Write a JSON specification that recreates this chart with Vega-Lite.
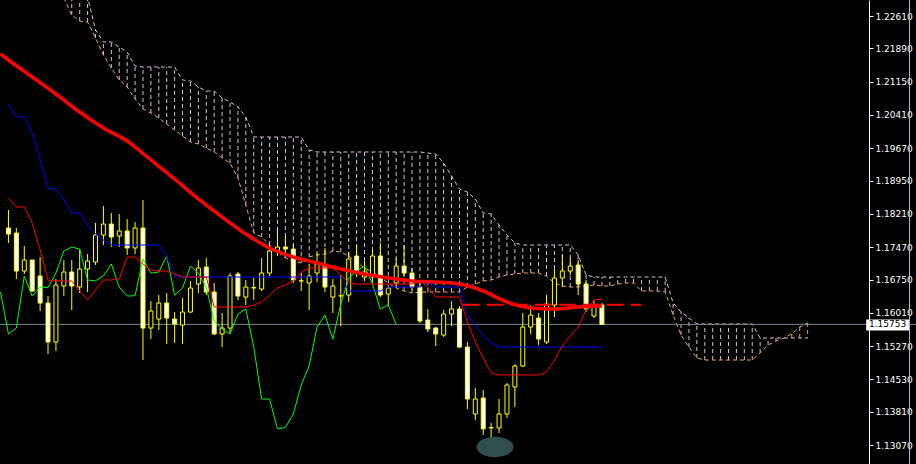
{
  "$schema": "https://vega.github.io/schema/vega-lite/v6.json",
  "width": 916,
  "height": 464,
  "autosize": {"type": "none"},
  "padding": 0,
  "background": "#000000",
  "config": {
    "view": {"stroke": null},
    "axis": {"grid": false, "domainColor": "#ffffff", "tickColor": "#ffffff", "tickSize": 4, "labelColor": "#ffffff",
      "labelFont": "DejaVu Sans", "labelFontSize": 9, "labelPadding": 2, "labelOverlap": false, "labelBound": false, "labelFlush": false}
  },
  "datasets": {
    "candles": [
      {"k":0,"o":1.17895,"h":1.18296,"l":1.17562,"c":1.17762},
      {"k":1,"o":1.17784,"h":1.17895,"l":1.16761,"c":1.16939},
      {"k":2,"o":1.16939,"h":1.17495,"l":1.16872,"c":1.17184},
      {"k":3,"o":1.17184,"h":1.17184,"l":1.16472,"c":1.16494},
      {"k":4,"o":1.16828,"h":1.17250,"l":1.16049,"c":1.16227},
      {"k":5,"o":1.16227,"h":1.16383,"l":1.15093,"c":1.15360},
      {"k":6,"o":1.15360,"h":1.16761,"l":1.15160,"c":1.16627},
      {"k":7,"o":1.16605,"h":1.17184,"l":1.16383,"c":1.16917},
      {"k":8,"o":1.16917,"h":1.17184,"l":1.16071,"c":1.16605},
      {"k":9,"o":1.16583,"h":1.17428,"l":1.16449,"c":1.16983},
      {"k":10,"o":1.16983,"h":1.17317,"l":1.16472,"c":1.17161},
      {"k":11,"o":1.17139,"h":1.18007,"l":1.17072,"c":1.17740},
      {"k":12,"o":1.17740,"h":1.18385,"l":1.17517,"c":1.17984},
      {"k":13,"o":1.17984,"h":1.18229,"l":1.17473,"c":1.17696},
      {"k":14,"o":1.17718,"h":1.18207,"l":1.17473,"c":1.17829},
      {"k":15,"o":1.17829,"h":1.18095,"l":1.17295,"c":1.17451},
      {"k":16,"o":1.17451,"h":1.18029,"l":1.17317,"c":1.17895},
      {"k":17,"o":1.17895,"h":1.18518,"l":1.14960,"c":1.15671},
      {"k":18,"o":1.15671,"h":1.16271,"l":1.15426,"c":1.16049},
      {"k":19,"o":1.15871,"h":1.16405,"l":1.15627,"c":1.16227},
      {"k":20,"o":1.16227,"h":1.16449,"l":1.15315,"c":1.15893},
      {"k":21,"o":1.15871,"h":1.16027,"l":1.15337,"c":1.15760},
      {"k":22,"o":1.15738,"h":1.16338,"l":1.15315,"c":1.16027},
      {"k":23,"o":1.16027,"h":1.16716,"l":1.16005,"c":1.16561},
      {"k":24,"o":1.16650,"h":1.17184,"l":1.16449,"c":1.17006},
      {"k":25,"o":1.17028,"h":1.17228,"l":1.16405,"c":1.16472},
      {"k":26,"o":1.16472,"h":1.16672,"l":1.15515,"c":1.15538},
      {"k":27,"o":1.15538,"h":1.16005,"l":1.15248,"c":1.15671},
      {"k":28,"o":1.15671,"h":1.16894,"l":1.15560,"c":1.16828},
      {"k":29,"o":1.16872,"h":1.16917,"l":1.16294,"c":1.16383},
      {"k":30,"o":1.16360,"h":1.16739,"l":1.16182,"c":1.16583},
      {"k":31,"o":1.16561,"h":1.16783,"l":1.16294,"c":1.16572},
      {"k":32,"o":1.16538,"h":1.17228,"l":1.16494,"c":1.16894},
      {"k":33,"o":1.16894,"h":1.17517,"l":1.16828,"c":1.17384},
      {"k":34,"o":1.17384,"h":1.17895,"l":1.17273,"c":1.17473},
      {"k":35,"o":1.17473,"h":1.17718,"l":1.17317,"c":1.17428},
      {"k":36,"o":1.17428,"h":1.17540,"l":1.16672,"c":1.16739},
      {"k":37,"o":1.16716,"h":1.16894,"l":1.16494,"c":1.16722},
      {"k":38,"o":1.16672,"h":1.17095,"l":1.16071,"c":1.16828},
      {"k":39,"o":1.16894,"h":1.17339,"l":1.16694,"c":1.17095},
      {"k":40,"o":1.17072,"h":1.17451,"l":1.16472,"c":1.16583},
      {"k":41,"o":1.16360,"h":1.16761,"l":1.16005,"c":1.16605},
      {"k":42,"o":1.16383,"h":1.16850,"l":1.15716,"c":1.16390},
      {"k":43,"o":1.16405,"h":1.17362,"l":1.16249,"c":1.17206},
      {"k":44,"o":1.17273,"h":1.17517,"l":1.16805,"c":1.16894},
      {"k":45,"o":1.16805,"h":1.17161,"l":1.16716,"c":1.16917},
      {"k":46,"o":1.16805,"h":1.17406,"l":1.16672,"c":1.17273},
      {"k":47,"o":1.17273,"h":1.17562,"l":1.16360,"c":1.16405},
      {"k":48,"o":1.16427,"h":1.16627,"l":1.16182,"c":1.16561},
      {"k":49,"o":1.16672,"h":1.17228,"l":1.16561,"c":1.17050},
      {"k":50,"o":1.17050,"h":1.17517,"l":1.16828,"c":1.16894},
      {"k":51,"o":1.16894,"h":1.17006,"l":1.16516,"c":1.16583},
      {"k":52,"o":1.16583,"h":1.16716,"l":1.15782,"c":1.15827},
      {"k":53,"o":1.15849,"h":1.16094,"l":1.15582,"c":1.15649},
      {"k":54,"o":1.15671,"h":1.15693,"l":1.15271,"c":1.15538},
      {"k":55,"o":1.15515,"h":1.16071,"l":1.15471,"c":1.15982},
      {"k":56,"o":1.15982,"h":1.16271,"l":1.15716,"c":1.16094},
      {"k":57,"o":1.16094,"h":1.16160,"l":1.15226,"c":1.15248},
      {"k":58,"o":1.15248,"h":1.15360,"l":1.13871,"c":1.14093},
      {"k":59,"o":1.13760,"h":1.14338,"l":1.13627,"c":1.14093},
      {"k":60,"o":1.14115,"h":1.14293,"l":1.13293,"c":1.13427},
      {"k":61,"o":1.13449,"h":1.13560,"l":1.13004,"c":1.13460},
      {"k":62,"o":1.13449,"h":1.14093,"l":1.13338,"c":1.13760},
      {"k":63,"o":1.13760,"h":1.14449,"l":1.13671,"c":1.14404},
      {"k":64,"o":1.14360,"h":1.14871,"l":1.13915,"c":1.14827},
      {"k":65,"o":1.14827,"h":1.16005,"l":1.14804,"c":1.15693},
      {"k":66,"o":1.15693,"h":1.16182,"l":1.15538,"c":1.15960},
      {"k":67,"o":1.15893,"h":1.16005,"l":1.15293,"c":1.15426},
      {"k":68,"o":1.15360,"h":1.16405,"l":1.15315,"c":1.16205},
      {"k":69,"o":1.16182,"h":1.16983,"l":1.15916,"c":1.16783},
      {"k":70,"o":1.16783,"h":1.17295,"l":1.16583,"c":1.16939},
      {"k":71,"o":1.16939,"h":1.17228,"l":1.16850,"c":1.17050},
      {"k":72,"o":1.17072,"h":1.17184,"l":1.16405,"c":1.16650},
      {"k":73,"o":1.16650,"h":1.16739,"l":1.16027,"c":1.16094},
      {"k":74,"o":1.15938,"h":1.16294,"l":1.15893,"c":1.16182},
      {"k":75,"o":1.16182,"h":1.16227,"l":1.15753,"c":1.15753}
    ],
    "ma": [
      {"k":-1,"v":1.21765},
      {"k":0,"v":1.21632},{"k":3,"v":1.21254},{"k":6,"v":1.20876},{"k":9,"v":1.20475},
      {"k":12,"v":1.20120},{"k":15,"v":1.19830},{"k":18,"v":1.19408},{"k":21,"v":1.18985},
      {"k":24,"v":1.18541},{"k":27,"v":1.18140},{"k":30,"v":1.17762},{"k":33,"v":1.17451},
      {"k":36,"v":1.17251},{"k":39,"v":1.17117},{"k":42,"v":1.16984},{"k":45,"v":1.16873},
      {"k":48,"v":1.16784},{"k":51,"v":1.16717},{"k":54,"v":1.16695},{"k":57,"v":1.16650},
      {"k":60,"v":1.16495},{"k":63,"v":1.16250},{"k":66,"v":1.16117},{"k":69,"v":1.16094},
      {"k":72,"v":1.16139},{"k":75,"v":1.16161}
    ],
    "kijun": [
      {"k":0,"v":1.20653},{"k":1,"v":1.20364},{"k":2,"v":1.20364},{"k":3,"v":1.20008},
      {"k":4,"v":1.19408},{"k":5,"v":1.18785},{"k":6,"v":1.18763},{"k":7,"v":1.18518},
      {"k":8,"v":1.18229},{"k":9,"v":1.18229},{"k":10,"v":1.17962},{"k":11,"v":1.17762},
      {"k":12,"v":1.17629},{"k":13,"v":1.17518},{"k":19,"v":1.17518},{"k":20,"v":1.17251},
      {"k":21,"v":1.16828},{"k":22,"v":1.16806},{"k":42,"v":1.16806},{"k":43,"v":1.16495},
      {"k":47,"v":1.16495},{"k":48,"v":1.16584},{"k":52,"v":1.16584},{"k":53,"v":1.16695},
      {"k":54,"v":1.16584},{"k":57,"v":1.16584},{"k":58,"v":1.15961},{"k":59,"v":1.15739},
      {"k":60,"v":1.15516},{"k":61,"v":1.15338},{"k":62,"v":1.15249},{"k":75,"v":1.15249}
    ],
    "tenkan": [
      {"k":0,"v":1.18563},{"k":1,"v":1.18363},{"k":2,"v":1.18363},{"k":3,"v":1.18007},
      {"k":4,"v":1.17406},{"k":5,"v":1.16739},{"k":6,"v":1.16717},{"k":8,"v":1.16717},
      {"k":9,"v":1.16495},{"k":10,"v":1.16295},{"k":11,"v":1.16517},{"k":12,"v":1.16739},
      {"k":13,"v":1.16739},{"k":14,"v":1.16762},{"k":15,"v":1.17251},{"k":16,"v":1.17251},
      {"k":17,"v":1.17095},{"k":18,"v":1.16962},{"k":19,"v":1.16940},{"k":20,"v":1.16940},
      {"k":21,"v":1.16873},{"k":22,"v":1.16806},{"k":25,"v":1.16806},{"k":26,"v":1.16139},
      {"k":30,"v":1.16139},{"k":31,"v":1.16183},{"k":32,"v":1.16250},{"k":33,"v":1.16406},
      {"k":34,"v":1.16562},{"k":35,"v":1.16628},{"k":36,"v":1.16717},{"k":37,"v":1.16917},
      {"k":38,"v":1.17006},{"k":41,"v":1.17006},{"k":42,"v":1.16851},{"k":43,"v":1.16673},
      {"k":44,"v":1.16650},{"k":51,"v":1.16650},{"k":52,"v":1.16717},{"k":53,"v":1.16584},
      {"k":54,"v":1.16361},{"k":57,"v":1.16361},{"k":58,"v":1.15805},{"k":59,"v":1.15361},
      {"k":60,"v":1.15005},{"k":61,"v":1.14671},{"k":62,"v":1.14627},{"k":67,"v":1.14627},
      {"k":68,"v":1.14694},{"k":69,"v":1.14960},{"k":70,"v":1.15272},{"k":71,"v":1.15494},
      {"k":72,"v":1.15694},{"k":73,"v":1.16072},{"k":74,"v":1.16295},{"k":75,"v":1.16317}
    ],
    "chikou": [
      {"k":-1,"v":1.16472},{"k":0,"v":1.15538},{"k":1,"v":1.15671},{"k":2,"v":1.16828},
      {"k":3,"v":1.16383},{"k":4,"v":1.16583},{"k":5,"v":1.16572},{"k":6,"v":1.16894},
      {"k":7,"v":1.17384},{"k":8,"v":1.17473},{"k":9,"v":1.17428},{"k":10,"v":1.16739},
      {"k":11,"v":1.16722},{"k":12,"v":1.16828},{"k":13,"v":1.17095},{"k":14,"v":1.16583},
      {"k":15,"v":1.16383},{"k":16,"v":1.16390},{"k":17,"v":1.17206},{"k":18,"v":1.16894},
      {"k":19,"v":1.16917},{"k":20,"v":1.17273},{"k":21,"v":1.16405},{"k":22,"v":1.16561},
      {"k":23,"v":1.17050},{"k":24,"v":1.16894},{"k":25,"v":1.16583},{"k":26,"v":1.15827},
      {"k":27,"v":1.15649},{"k":28,"v":1.15538},{"k":29,"v":1.15982},{"k":30,"v":1.16094},
      {"k":31,"v":1.15248},{"k":32,"v":1.14093},{"k":33,"v":1.14093},{"k":34,"v":1.13427},
      {"k":35,"v":1.13460},{"k":36,"v":1.13760},{"k":37,"v":1.14404},{"k":38,"v":1.14827},
      {"k":39,"v":1.15693},{"k":40,"v":1.15960},{"k":41,"v":1.15426},{"k":42,"v":1.16205},
      {"k":43,"v":1.16783},{"k":44,"v":1.16939},{"k":45,"v":1.17050},{"k":46,"v":1.16650},
      {"k":47,"v":1.16094},{"k":48,"v":1.16182},{"k":49,"v":1.15753}
    ],
    "cloud": [
      {"k":7,"a":1.23010,"b":1.23856},{"k":8,"a":1.22632,"b":1.23633},{"k":9,"a":1.22499,"b":1.23300},
      {"k":10,"a":1.22477,"b":1.23033},{"k":11,"a":1.22121,"b":1.22299},{"k":12,"a":1.21743,"b":1.22032},
      {"k":13,"a":1.21454,"b":1.22032},{"k":14,"a":1.21187,"b":1.21921},{"k":15,"a":1.21031,"b":1.21810},
      {"k":16,"a":1.20764,"b":1.21498},{"k":17,"a":1.20542,"b":1.21476},{"k":18,"a":1.20453,"b":1.21476},
      {"k":19,"a":1.20342,"b":1.21476},{"k":20,"a":1.20209,"b":1.21476},{"k":21,"a":1.20075,"b":1.21476},
      {"k":22,"a":1.19942,"b":1.21187},{"k":23,"a":1.19808,"b":1.21165},{"k":24,"a":1.19764,"b":1.21031},
      {"k":25,"a":1.19675,"b":1.20942},{"k":26,"a":1.19586,"b":1.20942},{"k":27,"a":1.19452,"b":1.20787},
      {"k":28,"a":1.19341,"b":1.20698},{"k":29,"a":1.19008,"b":1.20587},{"k":30,"a":1.18407,"b":1.20364},
      {"k":31,"a":1.17785,"b":1.19919},{"k":32,"a":1.17696,"b":1.19919},{"k":33,"a":1.17518,"b":1.19919},
      {"k":34,"a":1.17362,"b":1.19919},{"k":35,"a":1.17229,"b":1.19919},{"k":36,"a":1.17162,"b":1.19919},
      {"k":37,"a":1.17117,"b":1.19919},{"k":38,"a":1.17251,"b":1.19630},{"k":39,"a":1.17295,"b":1.19586},
      {"k":40,"a":1.17318,"b":1.19586},{"k":41,"a":1.17384,"b":1.19586},{"k":42,"a":1.17362,"b":1.19586},
      {"k":43,"a":1.17273,"b":1.19586},{"k":44,"a":1.17140,"b":1.19586},{"k":45,"a":1.17006,"b":1.19586},
      {"k":46,"a":1.16917,"b":1.19586},{"k":47,"a":1.16806,"b":1.19586},{"k":48,"a":1.16673,"b":1.19586},
      {"k":49,"a":1.16561,"b":1.19586},{"k":50,"a":1.16495,"b":1.19586},{"k":51,"a":1.16450,"b":1.19586},
      {"k":52,"a":1.16473,"b":1.19586},{"k":53,"a":1.16473,"b":1.19564},{"k":54,"a":1.16473,"b":1.19541},
      {"k":55,"a":1.16473,"b":1.19341},{"k":56,"a":1.16473,"b":1.19052},{"k":57,"a":1.16473,"b":1.18763},
      {"k":58,"a":1.16584,"b":1.18696},{"k":59,"a":1.16650,"b":1.18541},{"k":60,"a":1.16717,"b":1.18229},
      {"k":61,"a":1.16739,"b":1.18207},{"k":62,"a":1.16806,"b":1.17962},{"k":63,"a":1.16851,"b":1.17740},
      {"k":64,"a":1.16873,"b":1.17562},{"k":65,"a":1.16895,"b":1.17518},{"k":66,"a":1.16895,"b":1.17518},
      {"k":67,"a":1.16895,"b":1.17518},{"k":68,"a":1.16828,"b":1.17518},{"k":69,"a":1.16673,"b":1.17518},
      {"k":70,"a":1.16606,"b":1.17518},{"k":71,"a":1.16584,"b":1.17518},{"k":72,"a":1.16584,"b":1.17295},
      {"k":73,"a":1.16606,"b":1.16851},{"k":74,"a":1.16628,"b":1.16806},{"k":75,"a":1.16606,"b":1.16806},
      {"k":76,"a":1.16606,"b":1.16806},{"k":77,"a":1.16650,"b":1.16806},{"k":78,"a":1.16673,"b":1.16806},
      {"k":79,"a":1.16673,"b":1.16806},{"k":80,"a":1.16495,"b":1.16806},{"k":81,"a":1.16495,"b":1.16806},
      {"k":82,"a":1.16495,"b":1.16806},{"k":83,"a":1.16473,"b":1.16806},{"k":84,"a":1.15961,"b":1.16228},
      {"k":85,"a":1.15516,"b":1.16028},{"k":86,"a":1.15249,"b":1.15894},{"k":87,"a":1.15005,"b":1.15761},
      {"k":88,"a":1.14960,"b":1.15761},{"k":89,"a":1.14960,"b":1.15761},{"k":90,"a":1.14960,"b":1.15761},
      {"k":91,"a":1.14960,"b":1.15761},{"k":92,"a":1.14960,"b":1.15761},{"k":93,"a":1.14960,"b":1.15761},
      {"k":94,"a":1.14960,"b":1.15761},{"k":95,"a":1.15116,"b":1.15450},{"k":96,"a":1.15294,"b":1.15450},
      {"k":97,"a":1.15383,"b":1.15450},{"k":98,"a":1.15450,"b":1.15450},{"k":99,"a":1.15539,"b":1.15450},
      {"k":100,"a":1.15694,"b":1.15450},{"k":101,"a":1.15783,"b":1.15450}
    ],
    "dashline": [{"k1":57.4,"k2":79.95,"p":1.16190}],
    "price": [{"p":1.15753,"t":"1.15753"}],
    "blob": [{"k":61.5,"p":1.13026}]
  },
  "layer": [
    {
      "data": {"name": "cloud"},
      "mark": {"type": "rule", "strokeDash": [4, 3], "strokeWidth": 1, "clip": true},
      "encoding": {
        "x": {"field": "k", "type": "quantitative", "scale": {"domain": [-0.4375, 114.0625], "nice": false, "zero": false}, "axis": null},
        "y": {"field": "a", "type": "quantitative", "scale": {"domain": [1.126476, 1.22966], "nice": false, "zero": false},
          "axis": {"orient": "right", "offset": -47, "title": null, "format": ".5f",
            "values": [1.2261, 1.2189, 1.2115, 1.2041, 1.1967, 1.1895, 1.1821, 1.1747, 1.1675, 1.1601, 1.1527, 1.1453, 1.1381, 1.1307]}},
        "y2": {"field": "b"},
        "color": {"condition": {"test": "datum.b >= datum.a", "value": "#D8BFD8"}, "value": "#F4A460"}
      }
    },
    {
      "data": {"name": "cloud"},
      "mark": {"type": "line", "color": "#D8BFD8", "strokeDash": [4, 3], "strokeWidth": 1, "clip": true},
      "encoding": {
        "x": {"field": "k", "type": "quantitative", "axis": null},
        "y": {"field": "b", "type": "quantitative",
          "axis": {"orient": "right", "offset": -47, "title": null, "format": ".5f",
            "values": [1.2261, 1.2189, 1.2115, 1.2041, 1.1967, 1.1895, 1.1821, 1.1747, 1.1675, 1.1601, 1.1527, 1.1453, 1.1381, 1.1307]}}
      }
    },
    {
      "data": {"name": "cloud"},
      "mark": {"type": "line", "color": "#F4A460", "strokeDash": [4, 3], "strokeWidth": 1, "clip": true},
      "encoding": {
        "x": {"field": "k", "type": "quantitative", "axis": null},
        "y": {"field": "a", "type": "quantitative",
          "axis": {"orient": "right", "offset": -47, "title": null, "format": ".5f",
            "values": [1.2261, 1.2189, 1.2115, 1.2041, 1.1967, 1.1895, 1.1821, 1.1747, 1.1675, 1.1601, 1.1527, 1.1453, 1.1381, 1.1307]}}
      }
    },
    {
      "data": {"name": "price"},
      "mark": {"type": "rule", "color": "#778899", "strokeWidth": 1},
      "encoding": {
        "y": {"field": "p", "type": "quantitative",
          "axis": {"orient": "right", "offset": -47, "title": null, "format": ".5f",
            "values": [1.2261, 1.2189, 1.2115, 1.2041, 1.1967, 1.1895, 1.1821, 1.1747, 1.1675, 1.1601, 1.1527, 1.1453, 1.1381, 1.1307]}}
      }
    },
    {
      "data": {"name": "candles"},
      "mark": {"type": "rule", "color": "#FFFF00", "strokeWidth": 1},
      "encoding": {
        "x": {"field": "k", "type": "quantitative", "axis": null},
        "y": {"field": "l", "type": "quantitative",
          "axis": {"orient": "right", "offset": -47, "title": null, "format": ".5f",
            "values": [1.2261, 1.2189, 1.2115, 1.2041, 1.1967, 1.1895, 1.1821, 1.1747, 1.1675, 1.1601, 1.1527, 1.1453, 1.1381, 1.1307]}},
        "y2": {"field": "h"}
      }
    },
    {
      "data": {"name": "candles"},
      "mark": {"type": "bar", "width": 4, "stroke": "#FFFF00", "strokeWidth": 1},
      "encoding": {
        "x": {"field": "k", "type": "quantitative", "axis": null},
        "y": {"field": "o", "type": "quantitative",
          "axis": {"orient": "right", "offset": -47, "title": null, "format": ".5f",
            "values": [1.2261, 1.2189, 1.2115, 1.2041, 1.1967, 1.1895, 1.1821, 1.1747, 1.1675, 1.1601, 1.1527, 1.1453, 1.1381, 1.1307]}},
        "y2": {"field": "c"},
        "fill": {"condition": {"test": "datum.c < datum.o", "value": "#FFFFFF"}, "value": "#000000"}
      }
    },
    {
      "data": {"name": "chikou"},
      "mark": {"type": "line", "color": "#00FF00", "strokeWidth": 1, "clip": true},
      "encoding": {
        "x": {"field": "k", "type": "quantitative", "axis": null},
        "y": {"field": "v", "type": "quantitative",
          "axis": {"orient": "right", "offset": -47, "title": null, "format": ".5f",
            "values": [1.2261, 1.2189, 1.2115, 1.2041, 1.1967, 1.1895, 1.1821, 1.1747, 1.1675, 1.1601, 1.1527, 1.1453, 1.1381, 1.1307]}}
      }
    },
    {
      "data": {"name": "kijun"},
      "mark": {"type": "line", "color": "#0000FF", "strokeWidth": 1, "clip": true},
      "encoding": {
        "x": {"field": "k", "type": "quantitative", "axis": null},
        "y": {"field": "v", "type": "quantitative",
          "axis": {"orient": "right", "offset": -47, "title": null, "format": ".5f",
            "values": [1.2261, 1.2189, 1.2115, 1.2041, 1.1967, 1.1895, 1.1821, 1.1747, 1.1675, 1.1601, 1.1527, 1.1453, 1.1381, 1.1307]}}
      }
    },
    {
      "data": {"name": "tenkan"},
      "mark": {"type": "line", "color": "#FF0000", "strokeWidth": 1, "clip": true},
      "encoding": {
        "x": {"field": "k", "type": "quantitative", "axis": null},
        "y": {"field": "v", "type": "quantitative",
          "axis": {"orient": "right", "offset": -47, "title": null, "format": ".5f",
            "values": [1.2261, 1.2189, 1.2115, 1.2041, 1.1967, 1.1895, 1.1821, 1.1747, 1.1675, 1.1601, 1.1527, 1.1453, 1.1381, 1.1307]}}
      }
    },
    {
      "data": {"name": "dashline"},
      "mark": {"type": "rule", "color": "#FF0000", "strokeWidth": 2, "strokeDash": [17, 7]},
      "encoding": {
        "x": {"field": "k1", "type": "quantitative", "axis": null},
        "x2": {"field": "k2"},
        "y": {"field": "p", "type": "quantitative",
          "axis": {"orient": "right", "offset": -47, "title": null, "format": ".5f",
            "values": [1.2261, 1.2189, 1.2115, 1.2041, 1.1967, 1.1895, 1.1821, 1.1747, 1.1675, 1.1601, 1.1527, 1.1453, 1.1381, 1.1307]}}
      }
    },
    {
      "data": {"name": "ma"},
      "mark": {"type": "line", "color": "#FF0000", "strokeWidth": 3.5, "clip": true, "interpolate": "monotone"},
      "encoding": {
        "x": {"field": "k", "type": "quantitative", "axis": null},
        "y": {"field": "v", "type": "quantitative",
          "axis": {"orient": "right", "offset": -47, "title": null, "format": ".5f",
            "values": [1.2261, 1.2189, 1.2115, 1.2041, 1.1967, 1.1895, 1.1821, 1.1747, 1.1675, 1.1601, 1.1527, 1.1453, 1.1381, 1.1307]}}
      }
    },
    {
      "data": {"name": "blob"},
      "mark": {"type": "point", "filled": true, "color": "#2F4F4F", "opacity": 1, "size": 1369, "shape": "M-1,0A1,0.55 0 1,0 1,0A1,0.55 0 1,0 -1,0Z"},
      "encoding": {
        "x": {"field": "k", "type": "quantitative", "axis": null},
        "y": {"field": "p", "type": "quantitative",
          "axis": {"orient": "right", "offset": -47, "title": null, "format": ".5f",
            "values": [1.2261, 1.2189, 1.2115, 1.2041, 1.1967, 1.1895, 1.1821, 1.1747, 1.1675, 1.1601, 1.1527, 1.1453, 1.1381, 1.1307]}}
      }
    },
    {
      "data": {"name": "price"},
      "mark": {"type": "rect", "color": "#FFFFFF"},
      "encoding": {
        "x": {"datum": 108.4, "type": "quantitative", "axis": null},
        "x2": {"datum": 113.84},
        "y": {"datum": 1.15861, "type": "quantitative",
          "axis": {"orient": "right", "offset": -47, "title": null, "format": ".5f",
            "values": [1.2261, 1.2189, 1.2115, 1.2041, 1.1967, 1.1895, 1.1821, 1.1747, 1.1675, 1.1601, 1.1527, 1.1453, 1.1381, 1.1307]}},
        "y2": {"datum": 1.15616}
      }
    },
    {
      "data": {"name": "price"},
      "mark": {"type": "text", "color": "#000000", "font": "DejaVu Sans", "fontSize": 9, "align": "left", "baseline": "middle"},
      "encoding": {
        "x": {"datum": 108.75, "type": "quantitative", "axis": null},
        "y": {"field": "p", "type": "quantitative",
          "axis": {"orient": "right", "offset": -47, "title": null, "format": ".5f",
            "values": [1.2261, 1.2189, 1.2115, 1.2041, 1.1967, 1.1895, 1.1821, 1.1747, 1.1675, 1.1601, 1.1527, 1.1453, 1.1381, 1.1307]}},
        "text": {"field": "t"}
      }
    },
    {
      "data": {"name": "price"},
      "mark": {"type": "rule", "color": "#A6B8D0", "strokeWidth": 1},
      "encoding": {
        "x": {"datum": 113.875, "type": "quantitative", "axis": null}
      }
    }
  ]
}
